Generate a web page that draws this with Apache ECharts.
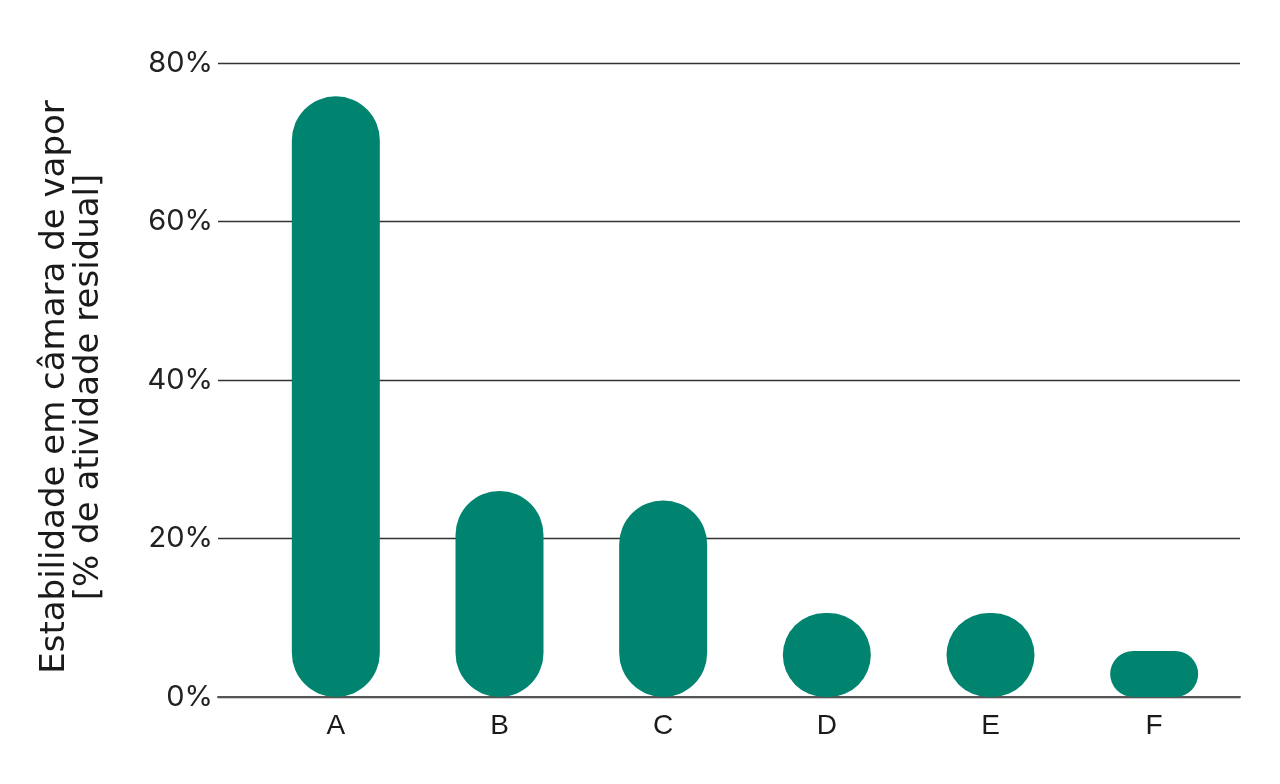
<!DOCTYPE html>
<html>
<head>
<meta charset="utf-8">
<script src="https://cdn.jsdelivr.net/npm/echarts@6/dist/echarts.min.js"></script>
<style>
html,body{margin:0;padding:0;background:#fff;}
#chart{width:1280px;height:784px;}
</style>
</head>
<body>
<div id="chart"></div>
<script>
const categories = ['A', 'B', 'C', 'D', 'E', 'F'];
const stability = [75.8, 26.0, 24.8, 10.6, 10.6, 5.8];
const yTicks = [0, 20, 40, 60, 80];
const yAxisName = 'Estabilidade em câmara de vapor\n[% de atividade residual]';

const chart = echarts.init(document.getElementById('chart'), null, {renderer: 'canvas'});
const option = {
  backgroundColor: '#ffffff',
  animation: false,
  grid: [
    {left: 218, right: 40, top: 63, bottom: 87, containLabel: false, outerBoundsMode: 'none'},
    {left: 254, right: 44, top: 63, bottom: 87, containLabel: false, outerBoundsMode: 'none'}
  ],
  xAxis: [
    {
      gridIndex: 0, type: 'category', data: categories,
      axisLine: {show: true, lineStyle: {color: '#555', width: 2}},
      axisTick: {show: false}, axisLabel: {show: false}, splitLine: {show: false}
    },
    {
      gridIndex: 1, type: 'category', data: categories,
      axisLine: {show: false}, axisTick: {show: false},
      axisLabel: {show: true, margin: 15, fontFamily: 'Liberation Sans', fontSize: 28, color: '#1a1a1a'}
    }
  ],
  yAxis: [
    {
      gridIndex: 0, type: 'value', min: yTicks[0], max: yTicks[yTicks.length - 1], interval: 20,
      name: yAxisName, nameLocation: 'middle', nameRotate: 90, nameGap: 112,
      nameTextStyle: {fontFamily: 'DejaVu Sans', fontSize: 34, lineHeight: 34, color: '#1a1a1a', align: 'center', padding: [0, 14, 0, 0]},
      axisLine: {show: false}, axisTick: {show: false},
      axisLabel: {formatter: '{value}%', margin: 5, fontFamily: 'Inter', fontSize: 29, color: '#222', padding: [10, 0, 0, 0]},
      splitLine: {show: true, lineStyle: {color: '#333', width: 1.3}}
    },
    {
      gridIndex: 1, type: 'value', min: yTicks[0], max: yTicks[yTicks.length - 1], show: false,
      splitLine: {show: false}
    }
  ],
  series: [
    {
      type: 'bar', xAxisIndex: 1, yAxisIndex: 1,
      data: stability, barWidth: 88,
      itemStyle: {color: '#008470', borderRadius: 44}
    }
  ]
};
chart.setOption(option);
</script>
</body>
</html>
